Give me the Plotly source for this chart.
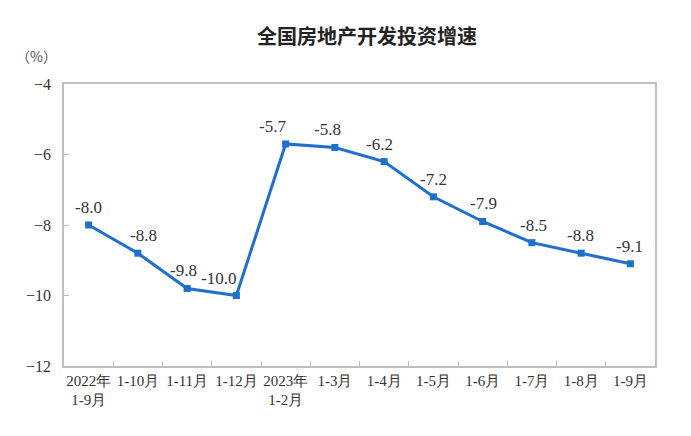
import plotly.graph_objects as go

categories = ["2022年<br>1-9月", "1-10月", "1-11月", "1-12月", "2023年<br>1-2月", "1-3月",
              "1-4月", "1-5月", "1-6月", "1-7月", "1-8月", "1-9月"]
values = [-8.0, -8.8, -9.8, -10.0, -5.7, -5.8, -6.2, -7.2, -7.9, -8.5, -8.8, -9.1]
y_ticks = [-12, -10, -8, -6, -4]

# horizontal nudges for value labels (pixels)
label_dx = [0, 6, -4, -18, -13, -7, -5, 0, 1, 2, -1, -1]

blue = "#1f6fd0"
serif = "Liberation Serif"

fig = go.Figure()
fig.add_trace(go.Scatter(
    x=categories, y=values, mode="lines+markers",
    line=dict(color=blue, width=3),
    marker=dict(symbol="square", size=7, color=blue),
    hoverinfo="skip", showlegend=False,
))

for c, v, dx in zip(categories, values, label_dx):
    fig.add_annotation(x=c, y=v, text=f"{v:.1f}", showarrow=False,
                       xshift=dx, yshift=6, yanchor="bottom",
                       font=dict(family=serif, size=17, color="#333333"))

fig.add_annotation(xref="x domain", yref="y domain",
                   x=(36 - 64) / 591, y=1 + (84 - 56) / 282,
                   xanchor="center", yanchor="middle", text="（%）", showarrow=False,
                   font=dict(family="Noto Sans CJK SC", size=14, color="#555555"))

fig.update_layout(
    width=691, height=436,
    margin=dict(l=64, r=36, t=84, b=70),
    paper_bgcolor="white", plot_bgcolor="white",
    title=dict(text="<b>全国房地产开发投资增速</b>", x=0.531, xanchor="center", y=1 - 37/436, yanchor="middle",
               font=dict(family="Noto Sans CJK SC", size=20, color="#222222")),
    font=dict(family=serif, size=15, color="#333333"),
)

fig.update_xaxes(
    type="category", tickson="boundaries", ticks="inside", ticklen=5, tickcolor="#bfbfbf",
    showline=True, linecolor="#bfbfbf", linewidth=1.5, mirror=True, showgrid=False,
    tickangle=0, tickfont=dict(family=serif, size=15, color="#333333"), range=[-0.5, 11.5],
)
fig.update_yaxes(
    range=[-12, -4], tickvals=y_ticks, ticks="inside", ticklen=5, tickcolor="#bfbfbf",
    showline=True, linecolor="#bfbfbf", linewidth=1.5, mirror=True, showgrid=False, zeroline=False,
    tickfont=dict(family=serif, size=16, color="#333333"), ticklabelstandoff=8,
)

fig.write_html("out.html")
